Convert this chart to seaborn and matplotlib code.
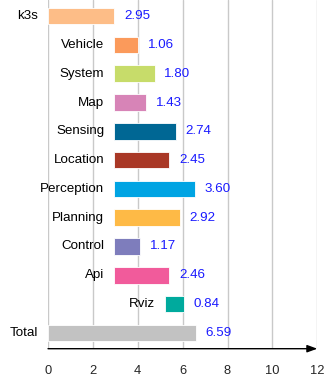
import matplotlib
matplotlib.use("Agg")
import matplotlib.pyplot as plt
import seaborn as sns
import pandas as pd

# module timeline: where each bar starts and how long it takes
categories = ["k3s", "Vehicle", "System", "Map", "Sensing", "Location",
              "Perception", "Planning", "Control", "Api", "Rviz", "Total"]
starts = [0, 2.95, 2.95, 2.95, 2.95, 2.95, 2.95, 2.95, 2.95, 2.95, 5.20, 0]
durations = [2.95, 1.06, 1.80, 1.43, 2.74, 2.45, 3.60, 2.92, 1.17, 2.46, 0.84, 6.59]
colors = ["#fdbd87", "#fb9a5b", "#c7dc6a", "#d784b7", "#006794", "#a93826",
          "#00a4e3", "#feba46", "#7e7dbc", "#f15b9b", "#00aa9d", "#c2c2c2"]
xticks = [0, 2, 4, 6, 8, 10, 12]

df = pd.DataFrame({"name": categories, "start": starts, "dur": durations})

sns.set_style("white")
plt.rcParams["font.family"] = ["Liberation Sans", "DejaVu Sans"]

fig = plt.figure(figsize=(3.34, 3.84), dpi=100)
ax = fig.add_axes([48 / 334, 1 - 348.7 / 384, (317.3 - 48) / 334, 348.7 / 384])

sns.barplot(data=df, x="dur", y="name", hue="name", order=categories,
            hue_order=categories, palette=colors, legend=False, dodge=False,
            errorbar=None, saturation=1, width=0.58, ax=ax,
            edgecolor="white", linewidth=0.6, zorder=3)
# shift each bar so it floats from its start time
for patch, s in zip(ax.patches, starts):
    patch.set_x(s)

ax.set_xlim(0, 12)
ax.set_ylim(11.55, -0.56)
ax.set_xticks(xticks)
ax.set_xticklabels([str(t) for t in xticks], fontsize=9.3)
ax.tick_params(axis="x", length=0, pad=12)
ax.set_yticks([])
ax.set_xlabel("")
ax.set_ylabel("")
for t in xticks:
    ax.axvline(t, color="#c9c9c9", lw=1, zorder=0)
for sp in ax.spines.values():
    sp.set_visible(False)

ax.annotate("", xy=(12, 11.55), xytext=(0, 11.55),
            arrowprops=dict(arrowstyle="-|>,head_length=0.6,head_width=0.22",
                            color="black", lw=1, shrinkA=0, shrinkB=0),
            annotation_clip=False, zorder=5)

for i, (name, s, d) in enumerate(zip(categories, starts, durations)):
    ax.annotate(name, xy=(s, i), xytext=(-7.2, 0), textcoords="offset points",
                ha="right", va="center", fontsize=9.6, color="black")
    ax.annotate(f"{d:.2f}", xy=(s + d, i), xytext=(7, 0), textcoords="offset points",
                ha="left", va="center", fontsize=9.6, color="#1a1aff")

fig.savefig("out.png", dpi=100)
